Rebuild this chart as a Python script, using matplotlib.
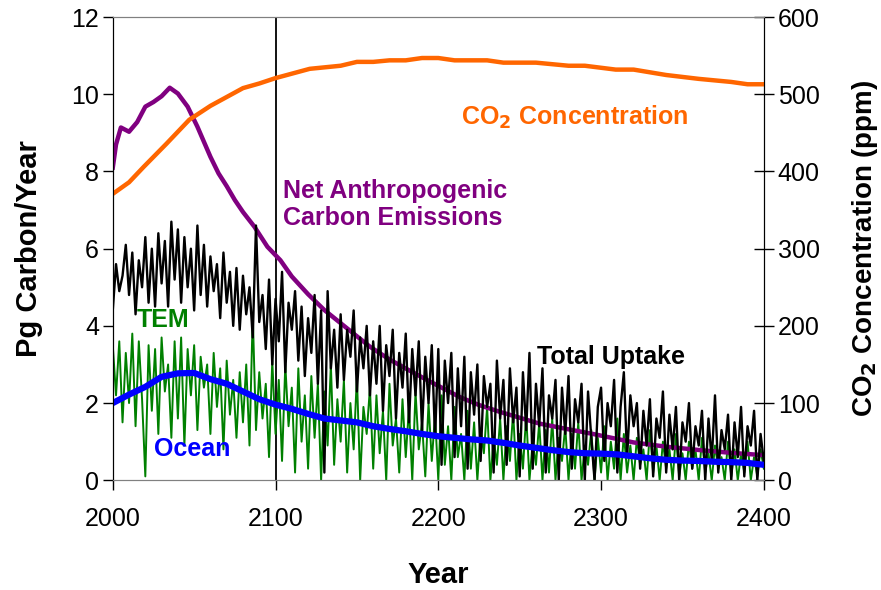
import matplotlib.pyplot as plt
import numpy as np

plt.rcParams['font.family'] = ['Liberation Sans', 'DejaVu Sans']

# noisy series, read every 2 years
years2 = np.arange(2000, 2401, 2)
tem = [3.5, 2.2, 3.6, 1.5, 3.3, 2.0, 3.8, 1.4, 3.6, 2.1,
       0.1, 3.5, 1.8, 3.4, 1.2, 3.7, 2.3, 3.0, 1.1, 3.6,
       1.6, 3.7, 0.9, 3.4, 2.2, 3.5, 1.3, 3.2, 2.4, 3.0,
       1.2, 3.3, 1.9, 2.9, 0.8, 3.1, 1.7, 2.6, 1.1, 2.8,
       1.5, 3.0, 0.9, 4.3, 1.3, 2.8, 1.6, 2.5, 0.6, 3.1,
       1.2, 2.6, 0.5, 3.0, 1.4, 2.4, 0.2, 2.9, 1.0, 2.2,
       0.3, 2.7, 1.1, 2.5, 0.0, 2.3, 0.9, 3.0, 0.4, 2.1,
       1.0, 2.6, 0.2, 2.0, 0.8, 2.7, 0.0, 1.9, 1.2, 2.4,
       0.3, 2.2, 0.7, 1.8, 0.0, 2.5, 0.9, 1.6, 0.2, 2.1,
       0.6, 1.9, 0.0, 2.3, 0.8, 1.5, 0.1, 2.0, 0.5, 1.7,
       0.0, 2.2, 0.4, 1.4, 0.0, 1.9, 0.6, 1.2, 0.0, 1.8,
       0.3, 1.5, 0.0, 1.3, 0.7, 1.9, 0.0, 1.1, 0.4, 1.6,
       0.0, 1.4, 0.5, 1.8, 0.0, 1.2, 0.3, 1.7, 0.0, 1.0,
       0.4, 1.5, 0.0, 1.3, 0.2, 1.6, 0.0, 1.1, 0.5, 1.4,
       0.0, 1.2, 0.3, 1.5, 0.0, 0.9, 0.4, 1.3, 0.0, 1.1,
       0.2, 1.4, 0.0, 1.0, 0.3, 1.6, 0.0, 1.2, 0.2, 0.9,
       0.0, 1.1, 0.4, 0.8, 0.0, 1.3, 0.2, 0.9, 0.0, 1.0,
       0.3, 0.8, 0.0, 1.2, 0.1, 0.7, 0.0, 1.0, 0.3, 0.8,
       0.0, 1.1, 0.2, 0.7, 0.0, 0.9, 0.3, 0.6, 0.0, 1.0,
       0.1, 0.8, 0.0, 0.7, 0.2, 1.0, 0.0, 0.6, 0.1, 0.8,
       0.3]
total_uptake = [4.4, 5.6, 4.9, 5.3, 6.1, 4.8, 5.9, 4.3, 5.7, 5.0,
                6.3, 4.6, 6.0, 4.5, 6.4, 5.1, 6.2, 4.5, 6.7, 5.2,
                6.5, 4.6, 6.3, 5.0, 6.0, 4.4, 6.6, 4.8, 6.1, 4.5,
                5.8, 4.9, 5.6, 4.2, 5.9, 4.6, 5.4, 4.0, 5.5, 3.9,
                5.3, 4.3, 5.0, 3.7, 6.6, 4.1, 4.8, 3.4, 5.2, 3.0,
                4.7, 3.6, 5.4, 2.8, 4.6, 3.9, 4.9, 3.1, 4.5, 2.7,
                4.2, 3.3, 4.8, 2.5, 4.4, 0.2, 4.9, 2.9, 3.9, 2.4,
                4.3, 2.6, 3.9, 3.2, 4.4, 2.3, 3.7, 2.9, 4.0, 2.2,
                3.6, 2.5, 4.0, 1.8, 3.5, 2.7, 3.9, 1.6, 3.3, 2.4,
                3.8, 1.5, 3.4, 2.2, 3.6, 1.3, 3.2, 2.0, 3.5, 1.1,
                3.4, 0.4, 3.1, 2.0, 3.3, 0.6, 2.9, 1.4, 3.2, 0.3,
                2.8, 1.7, 3.0, 0.5, 2.7, 1.9, 2.5, 0.2, 3.1, 1.6,
                2.6, 0.4, 2.9, 1.5, 2.4, 0.1, 2.8, 1.3, 3.3, 0.3,
                2.5, 1.4, 2.9, 0.2, 2.2, 1.6, 2.6, 0.0, 2.4, 1.2,
                2.7, 0.3, 2.1, 1.5, 2.5, 0.0, 2.3, 1.1, 0.0, 1.9,
                2.4, 0.5, 2.0, 1.4, 2.6, 0.2, 1.9, 2.8, 0.6, 2.2,
                1.4, 2.0, 0.3, 1.8, 0.9, 2.1, 0.1, 1.6, 1.1, 2.3,
                0.2, 1.7, 0.8, 1.9, 0.0, 1.5, 1.0, 2.0, 0.3, 1.4,
                0.9, 1.8, 0.0, 1.6, 0.5, 2.2, 0.2, 1.3, 0.8, 1.7,
                0.0, 1.5, 0.6, 1.9, 0.1, 1.4, 0.9, 1.8, 0.0, 1.2,
                0.5]

ocean_years = np.arange(2000, 2401, 10)
ocean = [2.0, 2.22, 2.42, 2.68, 2.77, 2.78, 2.62, 2.5, 2.3, 2.1,
         1.96, 1.85, 1.72, 1.6, 1.55, 1.5, 1.4, 1.33, 1.27, 1.2,
         1.14, 1.1, 1.06, 1.03, 0.97, 0.9, 0.84, 0.78, 0.73, 0.7,
         0.69, 0.67, 0.62, 0.57, 0.53, 0.51, 0.5, 0.48, 0.47, 0.45,
         0.4]

emis_years = [2000, 2002, 2005, 2010, 2015, 2020, 2025, 2030, 2035, 2040,
              2046, 2052, 2060, 2065, 2070, 2075, 2080, 2087, 2095, 2103,
              2110, 2120, 2130, 2145, 2158, 2170, 2182, 2193, 2203, 2213,
              2225, 2238, 2250, 2262, 2280, 2295, 2311, 2320, 2340, 2361,
              2380, 2400]
emissions = [8.1, 8.7, 9.14, 9.03, 9.28, 9.68, 9.8, 9.95, 10.17, 10.02,
             9.68, 9.16, 8.38, 7.95, 7.62, 7.26, 6.95, 6.57, 6.05, 5.7,
             5.28, 4.82, 4.41, 3.9, 3.46, 3.13, 2.85, 2.6, 2.38, 2.16,
             1.95, 1.77, 1.62, 1.47, 1.32, 1.2, 1.06, 0.98, 0.87, 0.78,
             0.71, 0.65]

co2_years = [2000, 2010, 2019, 2033, 2047, 2060, 2080, 2090, 2100, 2121,
             2140, 2150, 2160, 2170, 2180, 2190, 2200, 2210, 2230, 2240,
             2260, 2280, 2290, 2309, 2320, 2340, 2360, 2380, 2390, 2400]
co2 = [371, 386, 406, 436, 467, 485, 508, 514, 521, 533,
       537, 542, 542, 544, 544, 547, 547, 544, 544, 541,
       541, 537, 537, 532, 532, 525, 520, 516, 513, 513]

fig = plt.figure(figsize=(8.81, 5.90), dpi=100)
ax = fig.add_axes([0.128, 0.186, 0.739, 0.785])
ax2 = ax.twinx()

ax.axvline(2100, color='black', lw=1.3, zorder=1)
ax.plot(years2, tem, color='#008000', lw=1.4, zorder=2)
ax.plot(emis_years, emissions, color='#800080', lw=3.2, zorder=3)
ax.plot(years2, total_uptake, color='black', lw=1.7, zorder=4)
ax.plot(ocean_years, ocean, color='#0000FF', lw=4.5, zorder=5)
ax2.plot(co2_years, co2, color='#FF6600', lw=3.2)

ax.set_xlim(2000, 2400)
ax.set_ylim(0, 12)
ax2.set_ylim(0, 600)
ax.set_xticks([2000, 2100, 2200, 2300, 2400])
ax.set_yticks(range(0, 13, 2))
ax2.set_yticks(range(0, 601, 100))

ax.tick_params(axis='both', labelsize=18, length=7, width=1, direction='out')
ax.tick_params(axis='x', pad=12)
ax.tick_params(axis='y', pad=3)
ax2.tick_params(axis='y', labelsize=18, length=14, width=1, direction='inout', pad=3)

for a in (ax, ax2):
    a.spines['top'].set_color('#808080')
    a.spines['bottom'].set_color('#808080')
    a.spines['left'].set_color('black')
    a.spines['right'].set_color('black')

ax.set_xlabel('Year', fontsize=21, fontweight='bold', labelpad=22)
ax.set_ylabel('Pg Carbon/Year', fontsize=21, fontweight='bold', labelpad=20)
ax2.set_ylabel(r'CO$_\mathbf{2}$ Concentration (ppm)', fontsize=20,
               fontweight='bold', labelpad=22)

ax.text(2284, 9.41, r'CO$_\mathbf{2}$ Concentration', color='#FF6600',
        fontsize=18, fontweight='bold', ha='center', va='center')
ax.text(2104.5, 7.14, 'Net Anthropogenic\nCarbon Emissions', color='#800080',
        fontsize=18, fontweight='bold', ha='left', va='center', linespacing=1.15)
ax.text(2031, 4.15, 'TEM', color='#008000', fontsize=18, fontweight='bold',
        ha='center', va='center')
ax.text(2049, 0.8, 'Ocean', color='#0000FF', fontsize=18, fontweight='bold',
        ha='center', va='center')
ax.text(2306, 3.19, 'Total Uptake', color='black', fontsize=18,
        fontweight='bold', ha='center', va='center')

fig.savefig('out.png', dpi=100)
